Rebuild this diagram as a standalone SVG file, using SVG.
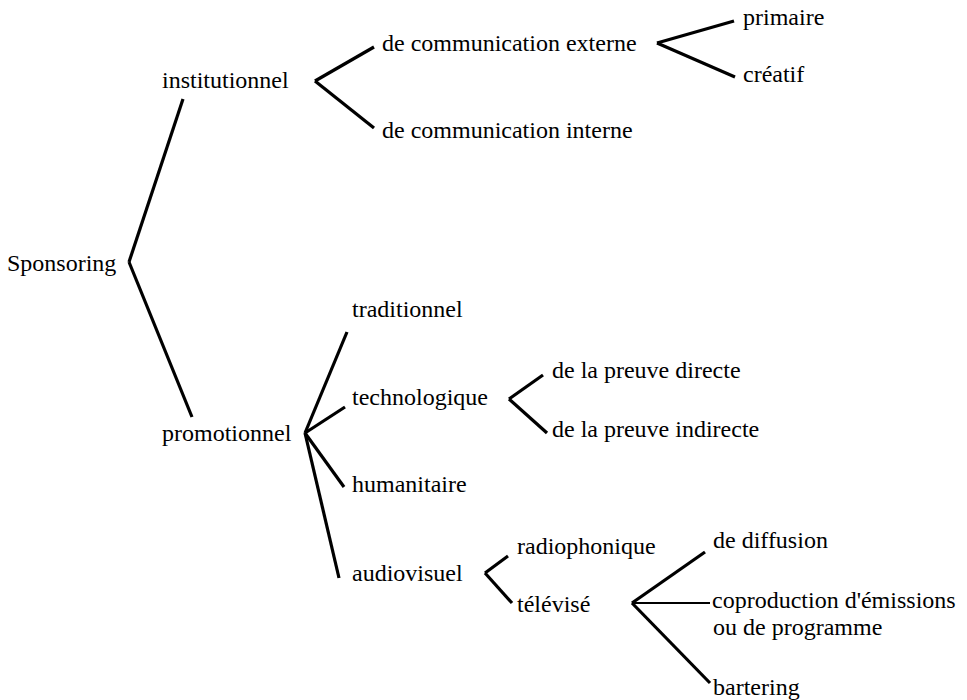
<svg xmlns="http://www.w3.org/2000/svg" width="967" height="700" viewBox="0 0 967 700">
  <style>
    .c line { stroke: #000; stroke-width: 3.2; stroke-linecap: butt; }
    .c line.thin { stroke-width: 2.2; }
  </style>
  <rect width="967" height="700" fill="#fff"/>

  <!-- connectors -->
  <g id="connectors" class="c">
    <!-- Sponsoring -->
    <line x1="183" y1="99" x2="129" y2="262"/>
    <line x1="129" y1="262" x2="192" y2="417"/>
    <!-- institutionnel -->
    <line x1="374" y1="47" x2="315" y2="81"/>
    <line x1="315" y1="81" x2="374" y2="128"/>
    <!-- de communication externe -->
    <line x1="734" y1="21" x2="657" y2="43"/>
    <line x1="657" y1="43" x2="735" y2="77"/>
    <!-- promotionnel -->
    <line x1="305" y1="433" x2="347" y2="332"/>
    <line x1="305" y1="433" x2="345" y2="407"/>
    <line x1="305" y1="433" x2="344" y2="487"/>
    <line x1="305" y1="433" x2="339" y2="578"/>
    <!-- technologique -->
    <line x1="543" y1="375" x2="509" y2="399"/>
    <line x1="509" y1="399" x2="547" y2="433"/>
    <!-- audiovisuel -->
    <line x1="508" y1="556" x2="485" y2="573"/>
    <line x1="485" y1="573" x2="512" y2="603"/>
    <!-- télévisé -->
    <line x1="705" y1="552" x2="632" y2="603"/>
    <line class="thin" x1="632" y1="603" x2="710" y2="603"/>
    <line x1="632" y1="603" x2="710" y2="683"/>
  </g>

  <g font-family="Liberation Serif, Times New Roman, DejaVu Serif, Noto Serif, serif" font-size="24" fill="#000">
    <g id="sponsoring"><text x="7" y="271">Sponsoring</text></g>
    <g id="institutionnel"><text x="162" y="88">institutionnel</text></g>
    <g id="com-externe"><text x="382" y="51">de communication externe</text></g>
    <g id="com-interne"><text x="382" y="138">de communication interne</text></g>
    <g id="primaire"><text x="743" y="25">primaire</text></g>
    <g id="creatif"><text x="743" y="82">créatif</text></g>
    <g id="promotionnel"><text x="162" y="441">promotionnel</text></g>
    <g id="traditionnel"><text x="352" y="317">traditionnel</text></g>
    <g id="technologique"><text x="352" y="405">technologique</text></g>
    <g id="humanitaire"><text x="352" y="492">humanitaire</text></g>
    <g id="audiovisuel"><text x="352" y="581">audiovisuel</text></g>
    <g id="preuve-directe"><text x="552" y="378">de la preuve directe</text></g>
    <g id="preuve-indirecte"><text x="552" y="437">de la preuve indirecte</text></g>
    <g id="radiophonique"><text x="517" y="554">radiophonique</text></g>
    <g id="televise"><text x="517" y="612">télévisé</text></g>
    <g id="diffusion"><text x="713" y="548">de diffusion</text></g>
    <g id="coproduction">
      <text x="712" y="608">coproduction d'émissions</text>
      <text x="713" y="635">ou de programme</text>
    </g>
    <g id="bartering"><text x="713" y="695">bartering</text></g>
  </g>
</svg>
